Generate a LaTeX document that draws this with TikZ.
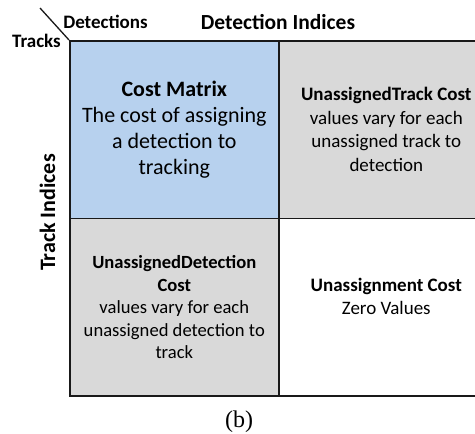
\documentclass[tikz,border=0pt]{standalone}
\usepackage{fontspec}
\setmainfont{Carlito}
\newfontfamily\capfont{Liberation Serif}
\definecolor{cellblue}{RGB}{183,209,238}
\definecolor{cellgray}{RGB}{217,217,217}
\definecolor{edgecol}{RGB}{25,25,25}
\tikzset{
  cell/.style={draw=edgecol, line width=1.6pt, minimum width=209pt, minimum height=177.5pt, inner sep=0pt, align=center, anchor=north west},
  bigtxt/.style={font=\fontsize{22}{26}\selectfont},
  midtxt/.style={font=\fontsize{19}{23.5}\selectfont},
  smltxt/.style={font=\fontsize{18.6}{22.5}\selectfont},
  hdr/.style={font=\fontsize{19}{22}\selectfont\bfseries, inner sep=0pt},
  hdrbig/.style={font=\fontsize{21.5}{25}\selectfont\bfseries, inner sep=0pt},
}
\begin{document}
\begin{tikzpicture}[x=1pt,y=-1pt]
\useasboundingbox (0,0) rectangle (475,434);
% cells
\node[cell, fill=cellblue, bigtxt] (cm) at (69,40) {\textbf{Cost Matrix}\\The cost of assigning\\a detection to\\tracking};
\node[cell, fill=cellgray, midtxt, minimum width=215pt] (ut) at (278,40) {\textbf{UnassignedTrack Cost}\\values vary for each\\unassigned track to\\detection};
\node[cell, fill=cellgray, smltxt] (ud) at (69,217.5) {\textbf{UnassignedDetection}\\\textbf{Cost}\\values vary for each\\unassigned detection to\\track};
\node[cell, fill=white, midtxt, minimum width=215pt] (uc) at (278,217.5) {\textbf{Unassignment Cost}\\Zero Values\\[-2pt]};
% headers
\node[hdr, anchor=base] (det) at (105.5,28) {Detections};
\node[hdrbig, anchor=base] (detidx) at (278,29) {Detection Indices};
\node[hdr, anchor=base east] (trk) at (61,47) {Tracks};
\node[font=\fontsize{22}{25}\selectfont\bfseries, inner sep=0pt, rotate=90] (trkidx) at (47.5,212.5) {Track Indices};
\coordinate (diagstart) at (40,8);
\draw[line width=1.3pt, edgecol] (diagstart) -- (cm.north west);
% caption
\node[font=\capfont\fontsize{24}{28}\selectfont, inner sep=0pt] (cap) at (239,422) {(b)};
\end{tikzpicture}
\end{document}
